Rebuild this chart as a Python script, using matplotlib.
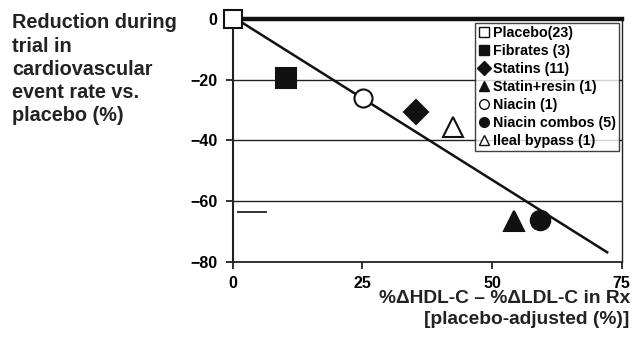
import matplotlib
matplotlib.use("Agg")
from matplotlib import pyplot as plt
from matplotlib.lines import Line2D

plt.rcParams['font.family'] = ['Liberation Sans', 'DejaVu Sans']
plt.rcParams['font.weight'] = 'bold'

# data
groups = ["Placebo(23)", "Fibrates (3)", "Statins (11)", "Statin+resin (1)",
          "Niacin (1)", "Niacin combos (5)", "Ileal bypass (1)"]
x_vals = [0, 10.3, 35.3, 54.2, 25.2, 59.3, 42.4]
y_vals = [0, -19.5, -30.5, -66.5, -26.0, -66.3, -35.5]
markers = ["s", "s", "D", "^", "o", "o", "^"]
filled = [False, True, True, True, False, True, False]
sizes = [13, 14, 12, 14, 13, 14, 15]

fit_x = [2.0, 72.2]
fit_y = [-1.4, -76.9]

dash_x = [1.1, 6.4]
dash_y = [-63.7, -63.7]

x_ticks = [0, 25, 50, 75]
y_ticks = [0, -20, -40, -60, -80]

fig = plt.figure(figsize=(6.42, 3.51), dpi=100)
ax = fig.add_axes([0.3625, 0.2544, 0.6059, 0.6915])

for gy in [-20, -40, -60]:
    ax.axhline(gy, color='#222222', lw=1.0, zorder=1)

ax.plot(fit_x, fit_y, color='#111111', lw=1.8, zorder=2)
ax.plot(dash_x, dash_y, color='#222222', lw=1.3, zorder=2)

for i in range(len(groups)):
    face = '#111111' if filled[i] else 'white'
    ax.plot(x_vals[i], y_vals[i], marker=markers[i], ms=sizes[i],
            mfc=face, mec='#111111', mew=1.5, ls='none', zorder=4,
            clip_on=False)

ax.set_xlim(0, 75)
ax.set_ylim(-80, 0)
ax.set_xticks(x_ticks)
ax.set_yticks(y_ticks)
ax.set_xticklabels([str(t) for t in x_ticks])
ax.set_yticklabels([str(t).replace('-', '\u2212') for t in y_ticks])
ax.tick_params(axis='both', direction='out', length=5, width=1.3,
               labelsize=11.5, color='#222222', pad=5)
ax.tick_params(axis='y', pad=6)

for s in ['left', 'bottom', 'right']:
    ax.spines[s].set_color('#222222')
ax.spines['left'].set_linewidth(1.5)
ax.spines['bottom'].set_linewidth(1.3)
ax.spines['right'].set_linewidth(1.0)
ax.spines['top'].set_linewidth(3.2)
ax.spines['top'].set_color('#111111')

handles = []
for i in range(len(groups)):
    face = '#111111' if filled[i] else 'white'
    handles.append(Line2D([], [], marker=markers[i], ms=7, mfc=face,
                          mec='#111111', mew=1.0, ls='none'))
leg = ax.legend(handles, groups, loc='upper right',
                bbox_to_anchor=(0.993, 0.985), frameon=True, fancybox=False,
                prop={'size': 10.3, 'weight': 'bold'}, handlelength=0.7,
                handletextpad=0.3, borderpad=0.22, labelspacing=0.28,
                borderaxespad=0.0)
leg.get_frame().set_edgecolor('#111111')
leg.get_frame().set_linewidth(1.0)
leg.set_zorder(5)

fig.text(0.019, 0.962, "Reduction during\ntrial in\ncardiovascular\nevent rate vs.\nplacebo (%)",
         fontsize=14.3, fontweight='bold', ha='left', va='top',
         linespacing=1.28, color='#222222')

fig.text(0.981, 0.174, "%\u0394HDL-C \u2013 %\u0394LDL-C in Rx\n[placebo-adjusted (%)]",
         fontsize=13.8, fontweight='bold', ha='right', va='top',
         linespacing=1.3, color='#222222')

fig.savefig("out.png", dpi=100)
